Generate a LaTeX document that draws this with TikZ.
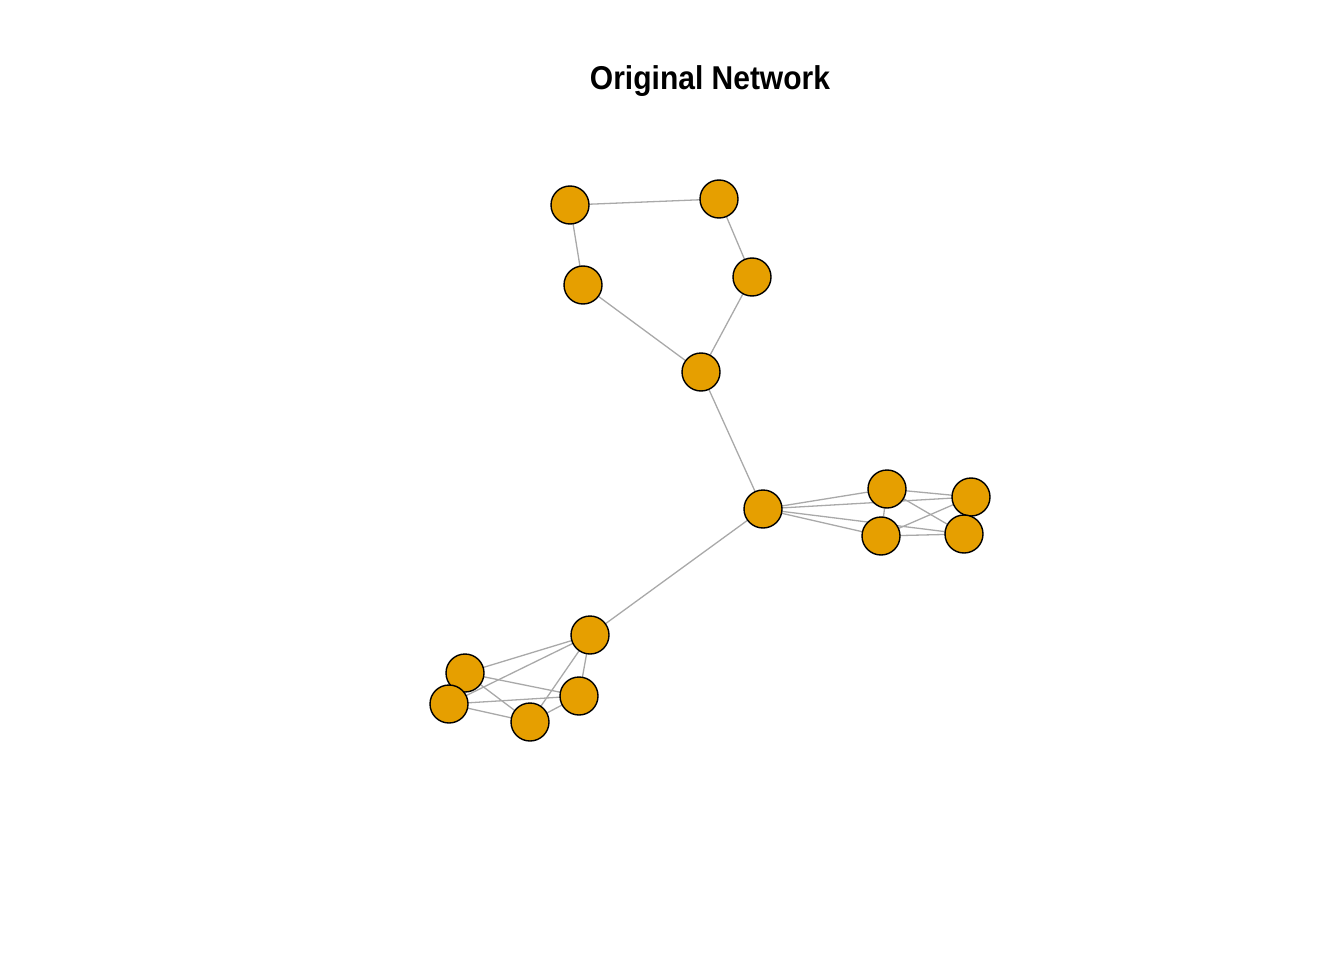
\documentclass[tikz,border=0pt]{standalone}
\usepackage{fontspec}
\setmainfont{Liberation Sans}
\definecolor{vfill}{HTML}{E69F00}
\definecolor{edgec}{HTML}{A9A9A9}
\begin{document}
\begin{tikzpicture}[x=1pt,y=-1pt,
  vert/.style={circle,draw=black,fill=vfill,line width=1.4pt,minimum size=38pt,inner sep=0pt},
  edge/.style={draw=edgec,line width=1.3pt}]
\useasboundingbox (0,0) rectangle (1344,960);
\node[font=\bfseries\fontsize{30}{36}\selectfont,yscale=1.1] (title) at (710,81) {Original Network};
% coordinates for vertices
\coordinate (pA) at (570,205);
\coordinate (pB) at (719,199);
\coordinate (pC) at (583,285);
\coordinate (pD) at (752,277);
\coordinate (pE) at (701,372);
\coordinate (pF) at (763,509);
\coordinate (pG) at (887,489);
\coordinate (pH) at (971,497);
\coordinate (pI) at (881,536);
\coordinate (pJ) at (964,534);
\coordinate (pK) at (590,635);
\coordinate (pL) at (465,673);
\coordinate (pM) at (449,704);
\coordinate (pN) at (530,722);
\coordinate (pO) at (579,696);
% edges (drawn beneath vertices)
\foreach \a/\b in {A/B,A/C,B/D,C/E,D/E,E/F,F/K,
  F/G,F/H,F/I,F/J,G/H,G/I,G/J,H/I,H/J,I/J,
  K/L,K/M,K/N,K/O,L/M,L/N,L/O,M/N,M/O,N/O}
  \draw[edge] (p\a) -- (p\b);
% vertices
\foreach \v in {A,B,C,D,E,F,G,H,I,J,K,L,M,N,O}
  \node[vert] (\v) at (p\v) {};
\end{tikzpicture}
\end{document}
